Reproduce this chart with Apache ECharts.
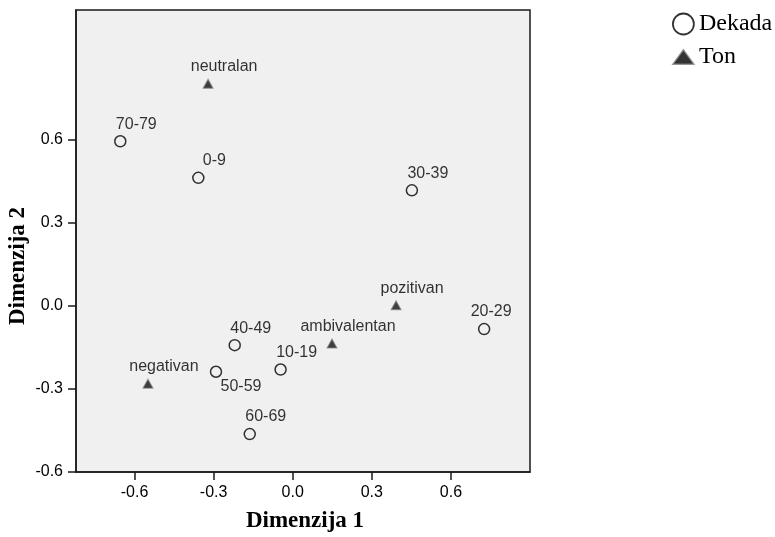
<!DOCTYPE html>
<html>
<head>
<meta charset="utf-8">
<script src="https://cdn.jsdelivr.net/npm/echarts@6/dist/echarts.min.js"></script>
<style>
html,body{margin:0;padding:0;background:#fff;}
#chart{width:775px;height:537px;}
</style>
</head>
<body>
<div id="chart"></div>
<script>
// ---- data ----
const dekadaNames = ['0-9','10-19','20-29','30-39','40-49','50-59','60-69','70-79'];
const dekadaDim1  = [-0.358, -0.046, 0.726, 0.452, -0.220, -0.291, -0.163, -0.654];
const dekadaDim2  = [0.462, -0.230, -0.084, 0.417, -0.142, -0.238, -0.463, 0.594];

const tonNames = ['negativan','neutralan','ambivalentan','pozitivan'];
const tonDim1  = [-0.549, -0.321, 0.149, 0.392];
const tonDim2  = [-0.281, 0.802, -0.136, 0.002];

const tickValues = [-0.6, -0.3, 0.0, 0.3, 0.6];

// ---- label placement (layout only) ----
const defaultLabelOffset = [16, -17];
const labelOffsetOverrides = { '20-29': [7, -17], '50-59': [25, 15] };

function buildData(names, xs, ys) {
  return names.map((n, i) => {
    const item = { name: n, value: [xs[i], ys[i]] };
    if (labelOffsetOverrides[n]) item.label = { offset: labelOffsetOverrides[n] };
    return item;
  });
}

const sans = '"Liberation Sans", Arial, sans-serif';
const serif = '"Liberation Serif", "Times New Roman", serif';

const chart = echarts.init(document.getElementById('chart'), null, { renderer: 'canvas' });

const labelCommon = {
  show: true,
  position: 'inside',
  offset: defaultLabelOffset,
  formatter: p => p.name,
  color: '#000',
  fontFamily: sans,
  fontSize: 16
};

const option = {
  animation: false,
  backgroundColor: '#fff',
  grid: {
    left: 76, right: 245, top: 10, bottom: 65,
    show: true,
    backgroundColor: '#f0f0f0',
    borderColor: '#1a1a1a',
    borderWidth: 1.5
  },
  xAxis: {
    type: 'value',
    min: -0.822, max: 0.9,
    axisLine: { show: true, onZero: false, lineStyle: { color: '#1a1a1a', width: 1.5 } },
    axisTick: { show: true, length: 8, customValues: tickValues, lineStyle: { color: '#1a1a1a', width: 1.5 } },
    axisLabel: { customValues: tickValues, formatter: v => v.toFixed(1), color: '#000', fontFamily: sans, fontSize: 16, margin: 13 },
    splitLine: { show: false }
  },
  yAxis: {
    type: 'value',
    min: -0.6, max: 1.068,
    axisLine: { show: true, onZero: false, lineStyle: { color: '#1a1a1a', width: 1.5 } },
    axisTick: { show: true, length: 8, customValues: tickValues, lineStyle: { color: '#1a1a1a', width: 1.5 } },
    axisLabel: { customValues: tickValues, formatter: v => v.toFixed(1), color: '#000', fontFamily: sans, fontSize: 16, margin: 13 },
    splitLine: { show: false }
  },
  legend: {
    orient: 'vertical',
    left: 667, top: 7,
    itemWidth: 21, itemHeight: 21,
    itemGap: 9,
    symbolKeepAspect: true,
    textStyle: { fontFamily: serif, fontSize: 24, color: '#000' },
    data: [
      { name: 'Dekada', icon: 'circle', itemStyle: { color: 'rgba(0,0,0,0)', borderColor: '#000', borderWidth: 1.8 } },
      { name: 'Ton', icon: 'path://M0,15 L11,0 L22,15 Z', itemStyle: { color: '#000', borderColor: '#888', borderWidth: 1.5 } }
    ]
  },
  graphic: [
    {
      type: 'text',
      x: 305, y: 521,
      style: { text: 'Dimenzija 1', font: 'bold 23px ' + serif, fill: '#000', textAlign: 'center', textVerticalAlign: 'middle' }
    },
    {
      type: 'text',
      x: 18, y: 266, rotation: Math.PI / 2,
      style: { text: 'Dimenzija 2', font: 'bold 23px ' + serif, fill: '#000', textAlign: 'center', textVerticalAlign: 'middle' }
    }
  ],
  series: [
    {
      name: 'Dekada',
      type: 'scatter',
      symbol: 'circle',
      symbolSize: 11,
      itemStyle: { color: 'rgba(0,0,0,0)', borderColor: '#000', borderWidth: 1.5 },
      label: labelCommon,
      data: buildData(dekadaNames, dekadaDim1, dekadaDim2)
    },
    {
      name: 'Ton',
      type: 'scatter',
      symbol: 'triangle',
      symbolSize: [10, 9],
      itemStyle: { color: '#111', borderColor: '#888', borderWidth: 1 },
      label: labelCommon,
      data: buildData(tonNames, tonDim1, tonDim2)
    }
  ]
};

chart.setOption(option);
</script>
</body>
</html>
